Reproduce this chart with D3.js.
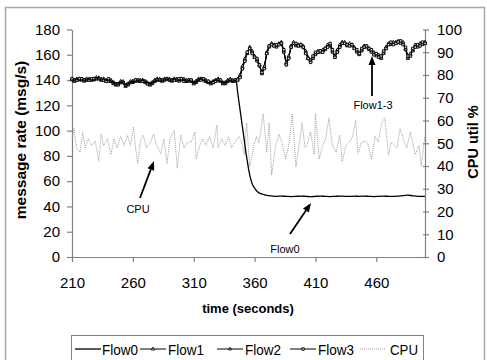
<!DOCTYPE html>
<html><head><meta charset="utf-8">
<script src="https://cdn.jsdelivr.net/npm/d3@7"></script>
<style>body{margin:0;background:#fff}svg{display:block;font-family:"Liberation Sans",Arial,sans-serif}</style>
</head><body>
<script>
// ---- data ----
const flowTime = [210,212,214,216,218,220,222,224,226,228,230,232,234,236,238,240,242,244,246,248,250,252,254,256,258,260,262,264,266,268,270,272,274,276,278,280,282,284,286,288,290,292,294,296,298,300,302,304,306,308,310,312,314,316,318,320,322,324,326,328,330,332,334,336,338,340,342,344,
346,348,350,352,354,356,358,360,362,364,366,368,370,372,374,376,378,380,382,384,386,388,390,392,394,396,398,400,402,404,406,408,410,412,414,416,418,420,422,424,426,428,430,432,434,436,438,440,442,444,446,448,450,452,454,456,458,460,462,464,466,468,470,472,474,476,478,480,482,484,486,488,490,492,494,496,498,500];
const flow1 = [141,139,140,141,140,140,141,140,140,141,142,141,140,141,139,140,139,138,136,137,139,138,135,137,138,139,139,140,139,140,139,137,136,138,140,141,140,139,141,141,140,140,141,140,140,141,140,139,140,139,137,139,141,141,140,139,138,137,139,140,141,139,137,138,140,140,139,140,
140,143,150,156,161,166,162,158,156,152,145,150,162,167,169,167,167,168,170,163,153,158,167,169,168,167,168,166,162,157,155,158,161,162,163,163,165,167,168,163,159,163,167,170,169,168,168,168,165,163,161,164,167,166,165,163,161,160,159,158,162,166,168,169,169,170,170,170,169,165,158,160,164,167,167,168,169,170];
const flow2 = [140,140,141,140,141,139,140,141,140,140,141,142,141,140,140,139,140,137,137,136,138,139,136,136,139,138,140,139,140,139,138,138,137,137,139,140,141,140,140,141,141,139,140,141,139,140,141,140,139,140,138,138,140,141,141,140,139,138,138,139,140,140,138,137,139,141,140,139,
141,144,151,157,162,165,163,159,155,151,146,151,161,166,168,168,166,169,169,162,154,159,166,170,167,168,167,167,163,158,156,157,160,163,162,164,164,168,167,162,158,164,168,169,170,167,169,167,166,162,160,163,166,167,164,162,162,159,160,157,161,165,169,168,170,169,171,169,170,164,157,161,163,168,166,169,168,169];
const flow3 = [141,140,140,141,141,140,140,140,141,141,141,141,140,140,139,141,139,138,137,137,138,138,136,137,138,139,140,140,139,139,139,137,137,138,139,140,140,140,140,141,140,140,140,140,141,141,139,139,140,140,138,139,140,140,141,139,139,138,138,139,140,140,138,138,139,140,139,140,
140,142,149,155,162,165,161,158,157,152,146,149,161,167,168,167,168,168,169,164,152,157,166,169,169,167,168,166,161,157,154,159,162,162,163,162,165,166,169,164,158,162,166,169,169,168,167,168,165,164,161,165,166,167,165,164,160,161,158,159,163,165,168,170,168,169,170,171,168,166,159,159,165,166,168,167,170,169];
const flow0Time = [210,212,214,216,218,220,222,224,226,228,230,232,234,236,238,240,242,244,246,248,250,252,254,256,258,260,262,264,266,268,270,272,274,276,278,280,282,284,286,288,290,292,294,296,298,300,302,304,306,308,310,312,314,316,318,320,322,324,326,328,330,332,334,336,338,340,342,344,
345,346,347,348,349,350,351,352,353,354,355,356,357,358,360,362,364,367,370,374,378,382,386,390,394,398,402,406,410,414,418,422,426,430,434,438,442,446,450,454,458,462,466,470,474,478,482,486,490,494,498,500];
const flow0 = [140,140,141,140,140,140,140,141,140,140,141,141,140,141,140,140,139,138,137,137,138,138,136,137,138,139,139,140,139,140,139,138,137,138,139,140,140,140,140,141,140,140,141,140,140,140,140,139,140,139,138,139,140,141,140,139,138,138,139,140,140,139,138,138,139,140,139,140,
139,131,124,117,110,103,96,89,82,76,70,65,61,58,54.5,52,50.5,49.5,48.8,48.3,48,48.2,48,47.8,48,48.2,48,47.7,48,48.2,48,47.8,48,48.2,48,47.9,48.1,48,48.2,48,47.8,48,48.1,48,48,48.2,48.5,49,48.4,48,48,48];
const cpuTime = [210,211.5,213.8,216.6,218.8,220.7,223.5,226,229,232,234,236,239,242,244.6,247,250,253,255.5,258,260.5,262,264,266.5,268.5,271,274.5,277,279.5,283,285.5,288,290.5,294,296.5,299.5,302,305,308,311,312,315,317.5,320,323,326,329,330,333,336,338.5,341,344,347,349.5,351.5,353.5,356,359,361.5,363.5,367,370,372,374,377,380,382.5,385.5,388,391,394,396.5,399,401.5,403,406,409,410,413,416,418.5,421,424,427,430,432,435,438,440.5,443,445,448,450.5,453,456,459,461.5,464.5,467,470,472.5,477,479.5,482,485,488,492,495,497,500];
const cpuUtil = [52,56.5,48,46,55,48,52,49,51,42,54,49,52,45,52,48,53,49,53.5,49,57,49,41,52,53.5,48,50.5,54,49,45.5,52,41,52,55.7,39,53.5,48,50.5,50.5,55,43,49,52,49,53,48,58,48,52,49,53,48,50.5,53,50.5,45,59,39.5,48,53,50,63,46,59,36,48,54,50.5,43,49,63,39.5,49,59,48,49,55,45,63,43,49,52,61,49,46,53.5,42,49,50.5,53,60,45.5,50.5,51,50,43,53,50.5,59,61,45,50.5,48,56.5,52,48,55,45,49,40,53.5];
const xTicks = [210,260,310,360,410,460];
const yLeftTicks = [0,20,40,60,80,100,120,140,160,180];
const yRightTicks = [0,10,20,30,40,50,60,70,80,90,100];
const legendNames = ["Flow0","Flow1","Flow2","Flow3","CPU"];

// ---- chart ----
const W = 487, H = 360;
const svg = d3.select("body").append("svg").attr("width", W).attr("height", H);
svg.append("rect").attr("width", W).attr("height", H).attr("fill", "#fff");
svg.append("rect").attr("x", 5.5).attr("y", 7.5).attr("width", 479).attr("height", 360)
  .attr("fill", "none").attr("stroke", "#a8a8a8").attr("stroke-width", 1.5);

const x = d3.scaleLinear().domain([210, 500]).range([72, 425]);
const yL = d3.scaleLinear().domain([0, 180]).range([257, 29.5]);
const yR = d3.scaleLinear().domain([0, 100]).range([257, 29.5]);

function styleAxis(g) {
  g.select(".domain").attr("stroke", "#808080").attr("stroke-width", 1.2);
  g.selectAll(".tick line").attr("stroke", "#808080").attr("stroke-width", 1.2);
  g.selectAll(".tick text").attr("fill", "#000").attr("font-size", 15).attr("font-family", '"Liberation Sans",Arial,sans-serif');
}
const gx = svg.append("g").attr("transform", "translate(0,257)")
  .call(d3.axisBottom(x).tickValues(xTicks).tickSize(5).tickSizeOuter(0).tickPadding(15).tickFormat(d3.format("d")));
styleAxis(gx);
const gl = svg.append("g").attr("transform", "translate(72,0)")
  .call(d3.axisLeft(yL).tickValues(yLeftTicks).tickSize(5).tickSizeOuter(0).tickPadding(7));
styleAxis(gl);
const gr = svg.append("g").attr("transform", "translate(425,0)")
  .call(d3.axisRight(yR).tickValues(yRightTicks).tickSize(4).tickSizeOuter(0).tickPadding(8));
styleAxis(gr);
gr.selectAll(".tick line").attr("x1", -2);

// titles
svg.append("text").attr("x", 248).attr("y", 313).attr("text-anchor", "middle")
  .attr("font-size", 13).attr("font-weight", "bold").text("time (seconds)");
svg.append("text").attr("transform", "translate(26,140) rotate(-90)").attr("text-anchor", "middle")
  .attr("font-size", 15.5).attr("font-weight", "bold").text("message rate (msg/s)");
svg.append("text").attr("transform", "translate(478,142) rotate(-90)").attr("text-anchor", "middle")
  .attr("font-size", 14.5).attr("font-weight", "bold").text("CPU util %");

// CPU line
const cpuLine = d3.line().x((d, i) => x(cpuTime[i])).y(d => yR(d));
svg.append("path").attr("d", cpuLine(cpuUtil)).attr("fill", "none")
  .attr("stroke", "#a0a0a0").attr("stroke-width", 1).attr("stroke-dasharray", "1,1");

// flows 1-3
const flowLine = d3.line().x((d, i) => x(flowTime[i])).y(d => yL(d));
const markerDefs = [
  {data: flow1, sym: d3.symbolTriangle, size: 5},
  {data: flow2, sym: d3.symbolTriangle, size: 4},
  {data: flow3, sym: d3.symbolSquare, size: 6}
];
markerDefs.forEach(m => {
  svg.append("path").attr("d", flowLine(m.data)).attr("fill", "none").attr("stroke", "#000").attr("stroke-width", 1.1);
});
markerDefs.forEach(m => {
  svg.append("g").selectAll("path").data(m.data).join("path")
    .attr("transform", (d, i) => `translate(${x(flowTime[i])},${yL(d)})`)
    .attr("d", d3.symbol(m.sym, m.size)())
    .attr("fill", "#ddd").attr("stroke", "#000").attr("stroke-width", 0.9);
});
// flow0
const f0Line = d3.line().x((d, i) => x(flow0Time[i])).y(d => yL(d)).curve(d3.curveMonotoneX);
svg.append("path").attr("d", f0Line(flow0)).attr("fill", "none").attr("stroke", "#000").attr("stroke-width", 1.3);

// annotations
function arrow(x1, y1, x2, y2) {
  const ang = Math.atan2(y2 - y1, x2 - x1), L = 9, Wd = 3.5;
  const bx = x2 - L * Math.cos(ang), by = y2 - L * Math.sin(ang);
  svg.append("line").attr("x1", x1).attr("y1", y1).attr("x2", bx).attr("y2", by)
    .attr("stroke", "#000").attr("stroke-width", 1.8);
  const px = -Math.sin(ang) * Wd, py = Math.cos(ang) * Wd;
  svg.append("path").attr("d", `M${x2},${y2}L${bx + px},${by + py}L${bx - px},${by - py}Z`).attr("fill", "#000");
}
arrow(140, 198, 154, 161);
arrow(290, 234, 311, 203);
arrow(372, 96, 372, 56);
svg.append("text").attr("x", 138).attr("y", 213).attr("text-anchor", "middle").attr("font-size", 11).text("CPU");
svg.append("text").attr("x", 285).attr("y", 253).attr("text-anchor", "middle").attr("font-size", 11).text("Flow0");
svg.append("text").attr("x", 373).attr("y", 109).attr("text-anchor", "middle").attr("font-size", 11).text("Flow1-3");

// legend
svg.append("rect").attr("x", 71.5).attr("y", 335.5).attr("width", 352).attr("height", 30)
  .attr("fill", "#fff").attr("stroke", "#808080").attr("stroke-width", 1);
const legLine = [75, 140, 217, 290, 360];
const legText = [102, 168, 245, 318, 390];
const legY = 349;
legendNames.forEach((n, i) => {
  const x0 = legLine[i], x1 = x0 + 26;
  const ln = svg.append("line").attr("x1", x0).attr("x2", x1).attr("y1", legY).attr("y2", legY)
    .attr("stroke", i === 4 ? "#a0a0a0" : "#000").attr("stroke-width", i === 0 ? 1.3 : 1);
  if (i === 4) ln.attr("stroke-dasharray", "1,1");
  if (i >= 1 && i <= 3) {
    const m = markerDefs[i - 1];
    svg.append("path").attr("transform", `translate(${(x0 + x1) / 2},${legY})`)
      .attr("d", d3.symbol(m.sym, m.size)()).attr("fill", "#ddd").attr("stroke", "#000").attr("stroke-width", 0.9);
  }
  svg.append("text").attr("x", legText[i]).attr("y", legY + 5.5).attr("font-size", 14)
    .attr("textLength", n === "CPU" ? 28 : 36).attr("lengthAdjust", "spacingAndGlyphs").text(n);
});
</script>
</body></html>
